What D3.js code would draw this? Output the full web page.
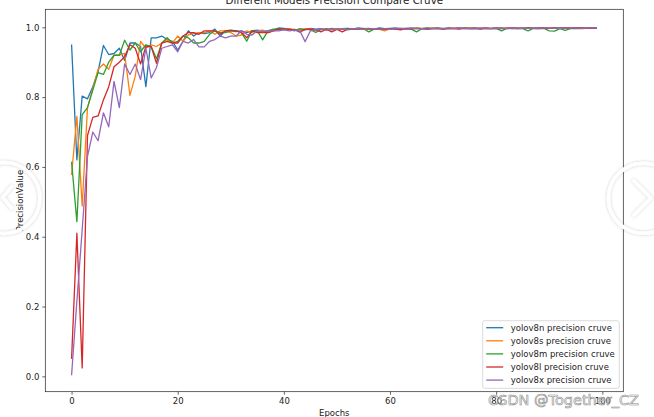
<!DOCTYPE html>
<html lang="en">
<head>
<meta charset="utf-8">
<title>Different Models Precision Compare Cruve</title>
<script src="https://cdn.jsdelivr.net/npm/d3@7"></script>
<style>
    body { margin: 0; background: #fff; }
    svg { display: block; font-family: "DejaVu Sans", sans-serif; }
</style>
</head>
<body>
<svg id="chart"></svg>
<script>

    // precision per epoch
    const v8n = [
        0.951, 0.620, 0.803, 0.795, 0.830, 0.873, 0.948, 0.922, 0.925, 0.940,
        0.905, 0.955, 0.955, 0.945, 0.830, 0.970, 0.970, 0.975, 0.965, 0.960,
        0.935, 0.960, 0.990, 0.975, 0.985, 0.982, 0.985, 0.995, 0.975, 0.990,
        0.990, 0.988, 0.990, 0.985, 0.990, 0.992, 0.988, 0.990, 0.993, 0.998,
        0.997, 0.995, 0.990, 0.996, 0.993, 0.997, 0.995, 0.996, 0.993, 0.997,
        0.995, 0.996, 0.997, 0.995, 0.998, 0.996, 0.997, 0.995, 0.998, 0.996,
        0.997, 0.998, 0.996, 0.997, 0.998, 0.997, 0.996, 0.998, 0.997, 0.998,
        0.996, 0.998, 0.997, 0.998, 0.997, 0.998, 0.998, 0.997, 0.998, 0.997,
        0.998, 0.998, 0.997, 0.998, 0.998, 0.997, 0.998, 0.998, 0.999, 0.998,
        0.997, 0.998, 0.999, 0.998, 0.998, 0.999, 0.998, 0.998, 0.999, 0.998];
    const v8s = [
        0.577, 0.745, 0.488, 0.770, 0.825, 0.880, 0.895, 0.880, 0.920, 0.920,
        0.925, 0.805, 0.860, 0.960, 0.940, 0.950, 0.945, 0.955, 0.965, 0.955,
        0.975, 0.960, 0.978, 0.982, 0.985, 0.985, 0.990, 0.980, 0.990, 0.990,
        0.985, 0.975, 0.978, 0.990, 0.985, 0.990, 0.992, 0.985, 0.990, 0.994,
        0.993, 0.996, 0.992, 0.995, 0.994, 0.996, 0.990, 0.995, 0.996, 0.994,
        0.996, 0.995, 0.997, 0.994, 0.996, 0.997, 0.995, 0.996, 0.994, 0.990,
        0.996, 0.997, 0.995, 0.997, 0.996, 0.998, 0.997, 0.996, 0.998, 0.997,
        0.995, 0.997, 0.998, 0.996, 0.997, 0.998, 0.997, 0.996, 0.998, 0.997,
        0.998, 0.997, 0.998, 0.996, 0.998, 0.997, 0.998, 0.998, 0.997, 0.998,
        0.998, 0.997, 0.998, 0.999, 0.997, 0.998, 0.999, 0.998, 0.998, 0.999];
    const v8m = [
        0.615, 0.443, 0.750, 0.770, 0.820, 0.870, 0.865, 0.900, 0.920, 0.920,
        0.963, 0.935, 0.955, 0.930, 0.950, 0.945, 0.910, 0.955, 0.970, 0.955,
        0.960, 0.975, 0.970, 0.955, 0.955, 0.960, 0.980, 0.990, 0.985, 0.985,
        0.990, 0.990, 0.985, 0.960, 0.990, 0.990, 0.964, 0.990, 0.995, 0.994,
        0.995, 0.993, 0.994, 0.992, 0.995, 0.993, 0.985, 0.994, 0.995, 0.993,
        0.995, 0.994, 0.996, 0.995, 0.994, 0.996, 0.987, 0.995, 0.996, 0.995,
        0.996, 0.995, 0.997, 0.996, 0.995, 0.987, 0.996, 0.997, 0.996, 0.997,
        0.996, 0.997, 0.996, 0.997, 0.998, 0.996, 0.997, 0.996, 0.997, 0.996,
        0.997, 0.990, 0.997, 0.996, 0.997, 0.996, 0.990, 0.997, 0.996, 0.997,
        0.990, 0.989, 0.996, 0.991, 0.996, 0.997, 0.996, 0.997, 0.997, 0.998];
    const v8l = [
        0.050, 0.410, 0.024, 0.690, 0.742, 0.746, 0.792, 0.830, 0.887, 0.900,
        0.916, 0.950, 0.940, 0.895, 0.945, 0.945, 0.897, 0.955, 0.960, 0.955,
        0.955, 0.975, 0.985, 0.985, 0.980, 0.990, 0.990, 0.990, 0.980, 0.990,
        0.992, 0.990, 0.985, 0.970, 0.990, 0.985, 0.985, 0.985, 0.990, 0.995,
        0.995, 0.994, 0.993, 0.986, 0.994, 0.995, 0.993, 0.987, 0.995, 0.987,
        0.994, 0.987, 0.995, 0.994, 0.996, 0.995, 0.994, 0.996, 0.995, 0.994,
        0.996, 0.995, 0.993, 0.996, 0.995, 0.997, 0.996, 0.994, 0.996, 0.997,
        0.995, 0.997, 0.996, 0.995, 0.997, 0.996, 0.997, 0.995, 0.997, 0.996,
        0.997, 0.996, 0.997, 0.998, 0.996, 0.997, 0.998, 0.997, 0.996, 0.998,
        0.997, 0.998, 0.997, 0.998, 0.997, 0.998, 0.998, 0.997, 0.998, 0.998];
    const v8x = [
        0.003, 0.215, 0.420, 0.630, 0.700, 0.675, 0.755, 0.715, 0.845, 0.770,
        0.895, 0.865, 0.895, 0.850, 0.940, 0.855, 0.885, 0.940, 0.945, 0.950,
        0.930, 0.960, 0.955, 0.965, 0.944, 0.944, 0.960, 0.965, 0.975, 0.970,
        0.975, 0.975, 0.990, 0.980, 0.978, 0.990, 0.988, 0.990, 0.990, 0.990,
        0.993, 0.990, 0.992, 0.990, 0.959, 0.990, 0.993, 0.994, 0.992, 0.995,
        0.994, 0.995, 0.993, 0.995, 0.996, 0.994, 0.995, 0.996, 0.994, 0.996,
        0.995, 0.996, 0.997, 0.995, 0.996, 0.997, 0.996, 0.995, 0.997, 0.996,
        0.997, 0.996, 0.997, 0.998, 0.996, 0.997, 0.996, 0.998, 0.997, 0.996,
        0.998, 0.997, 0.996, 0.998, 0.997, 0.998, 0.997, 0.998, 0.997, 0.998,
        0.998, 0.997, 0.998, 0.997, 0.998, 0.998, 0.997, 0.998, 0.999, 0.998];

    const seriesNames = ["yolov8n precision cruve", "yolov8s precision cruve", "yolov8m precision cruve",
                         "yolov8l precision cruve", "yolov8x precision cruve"];
    const seriesValues = [v8n, v8s, v8m, v8l, v8x];
    const colors = ["#1f77b4", "#ff7f0e", "#2ca02c", "#d62728", "#9467bd"];
    const xTicks = [0, 20, 40, 60, 80, 100];
    const yTicks = [0.0, 0.2, 0.4, 0.6, 0.8, 1.0];

    let width = 654, height = 417;
    let margin = {top: 9.3, right: 30.7, bottom: 25.3, left: 45.3},
        chartWidth = width - margin.left - margin.right,
        chartHeight = height - margin.top - margin.bottom;

    let svg = d3.select("#chart").attr("width", width).attr("height", height);

    let defs = svg.append("defs");
    defs.append("filter").attr("id", "glow")
        .attr("x", "-50%").attr("y", "-50%").attr("width", "200%").attr("height", "200%")
        .append("feDropShadow")
        .attr("dx", 0).attr("dy", 0).attr("stdDeviation", 1.6)
        .attr("flood-color", "#000").attr("flood-opacity", 0.22);

    let x = d3.scaleLinear().domain([-4.95, 103.95]).range([0, chartWidth]);
    let y = d3.scaleLinear().domain([-0.044, 1.0516]).range([chartHeight, 0]);

    let chartArea = svg.append("g")
        .attr("transform", `translate(${margin.left},${margin.top})`);

    let line = d3.line()
        .x((d, i) => x(i))
        .y(d => y(d));

    chartArea.selectAll("path.series")
        .data(seriesValues)
        .enter().append("path")
            .attr("class", "series")
            .attr("fill", "none")
            .attr("stroke", (d, i) => colors[i])
            .attr("stroke-width", 1.3)
            .attr("stroke-linejoin", "round")
            .attr("d", line);

    // axes
    let xAxis = chartArea.append("g")
        .attr("transform", `translate(0,${chartHeight})`)
        .call(d3.axisBottom(x).tickValues(xTicks).tickSize(3).tickPadding(3).tickFormat(d3.format("d")));
    let yAxis = chartArea.append("g")
        .call(d3.axisLeft(y).tickValues(yTicks).tickSize(3).tickPadding(3).tickFormat(d3.format(".1f")));

    [xAxis, yAxis].forEach(a => {
        a.select(".domain").remove();
        a.selectAll(".tick line").attr("stroke", "#222").attr("stroke-width", 0.7);
        a.selectAll(".tick text").attr("fill", "#222").style("font-size", "8.5px")
            .style("font-family", "DejaVu Sans, sans-serif");
    });

    chartArea.append("rect")
        .attr("width", chartWidth).attr("height", chartHeight)
        .attr("fill", "none").attr("stroke", "#222").attr("stroke-width", 0.7);

    // titles
    svg.append("text")
        .attr("x", margin.left + chartWidth / 2).attr("y", 4.3)
        .attr("text-anchor", "middle").style("font-size", "10.3px").attr("fill", "#222")
        .text("Different Models Precision Compare Cruve");
    svg.append("text")
        .attr("x", margin.left + chartWidth / 2).attr("y", 416)
        .attr("text-anchor", "middle").style("font-size", "8.5px").attr("fill", "#222")
        .text("Epochs");
    svg.append("text")
        .attr("transform", `translate(22.6,${margin.top + chartHeight / 2}) rotate(-90)`)
        .attr("text-anchor", "middle").style("font-size", "8.5px").attr("fill", "#222")
        .text("PrecisionValue");

    // legend
    let legend = svg.append("g").attr("transform", "translate(482.7,320.7)");
    legend.append("rect")
        .attr("width", 136.6).attr("height", 67.6).attr("rx", 2)
        .attr("fill", "#fff").attr("fill-opacity", 0.8)
        .attr("stroke", "#ccc").attr("stroke-width", 0.7);
    let rows = legend.selectAll("g.row")
        .data(seriesNames)
        .enter().append("g")
            .attr("transform", (d, i) => `translate(0,${7 + i * 13.1})`);
    rows.append("line")
        .attr("x1", 3.5).attr("x2", 20.5)
        .attr("stroke", (d, i) => colors[i]).attr("stroke-width", 1.3);
    rows.append("text")
        .attr("x", 28).attr("dy", "0.33em")
        .style("font-size", "8.5px").attr("fill", "#222")
        .text(d => d);

    // page overlay: carousel buttons and watermark
    let overlay = svg.append("g").attr("filter", "url(#glow)")
        .attr("fill", "none").attr("stroke", "#fff").attr("stroke-linecap", "round")
        .attr("stroke-linejoin", "round");
    overlay.append("circle").attr("cx", 4.4).attr("cy", 198).attr("r", 35.5).attr("stroke-width", 3.5);
    overlay.append("path").attr("d", "M11.7,186.7 L2.7,197.3 L11.7,208").attr("stroke-width", 3.5);
    overlay.append("circle").attr("cx", 643.4).attr("cy", 198.3).attr("r", 35).attr("stroke-width", 3.5);
    overlay.append("path").attr("d", "M634,181 L651,198 L634,215").attr("stroke-width", 3.5);

    svg.append("text")
        .attr("x", 639).attr("y", 405).attr("text-anchor", "end")
        .style("font-size", "14.5px")
        .attr("fill", "#fff").attr("fill-opacity", 0.75)
        .attr("stroke", "#8a8a8a").attr("stroke-width", 0.6)
        .text("CSDN @Together_CZ");

</script>
</body>
</html>
